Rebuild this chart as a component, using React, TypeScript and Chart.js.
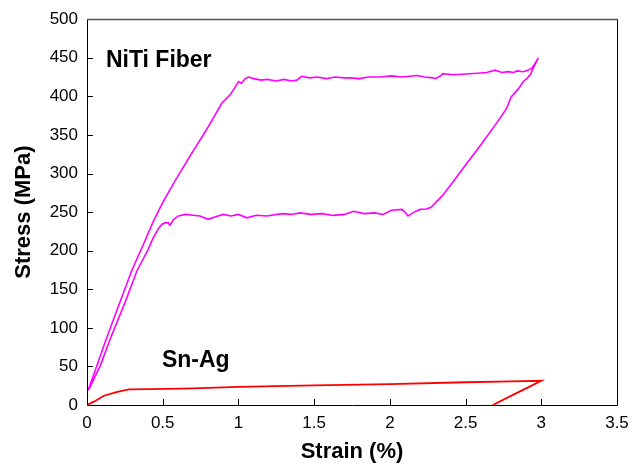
import React, { useEffect, useRef } from "react";
import { Chart, registerables } from "chart.js";

Chart.register(...registerables);

// NiTi fiber loading / unloading loop (strain %, stress MPa)
const nitiStrain = [
  0.007, 0.06, 0.124, 0.2, 0.295, 0.37, 0.438, 0.504, 0.592, 0.691, 0.79, 0.89, 0.945, 0.975, 1.0, 1.02, 1.045, 1.066,
  1.1, 1.15, 1.19, 1.25, 1.3, 1.35, 1.385, 1.418, 1.47, 1.52, 1.58, 1.64, 1.7, 1.737, 1.8, 1.86, 1.935, 2.01, 2.08,
  2.18, 2.23, 2.285, 2.3, 2.33, 2.35, 2.42, 2.5, 2.58, 2.64, 2.695, 2.74, 2.78, 2.816, 2.84, 2.88, 2.915, 2.94, 2.96,
  2.98,
  2.95, 2.93, 2.91, 2.88, 2.85, 2.8, 2.77, 2.7, 2.6, 2.5, 2.42, 2.35, 2.27, 2.24, 2.2, 2.16, 2.12, 2.1, 2.08, 2.01,
  1.957, 1.9, 1.83, 1.76, 1.7, 1.627, 1.55, 1.48, 1.407, 1.35, 1.29, 1.187, 1.12, 1.055, 1.0, 0.95, 0.9, 0.85, 0.8,
  0.746, 0.7, 0.65, 0.603, 0.57, 0.548, 0.537, 0.515, 0.493, 0.47, 0.438, 0.4, 0.33, 0.255, 0.15, 0.09, 0.012,
];
const nitiStress = [
  19, 48, 84, 124, 174, 207, 238, 264, 294, 326, 357, 391, 402, 411, 419, 417, 423, 425,
  423, 421, 422, 420, 422, 420, 421, 426, 424, 425, 423, 425, 424, 424, 423, 425, 425, 426.5, 425,
  427, 425, 424, 423, 426, 429.5, 428, 429, 430, 431, 434, 431, 432, 431, 433, 432, 434, 437, 443,
  450,
  438, 429, 424, 419, 410, 399, 384, 364, 337, 311, 290, 272, 256, 254, 253.5, 250, 245, 250, 253.5, 252.5,
  247, 249, 248, 251, 247, 245.7, 248, 247, 249, 247, 248, 245, 246, 242.6, 247, 245, 247, 244, 240.6,
  245, 246, 247, 245, 240, 233, 236, 236, 234, 228, 217, 200, 174, 135, 84, 52, 20,
];

// Sn-Ag loading / unloading
const snAgStrain = [0, 0.046, 0.112, 0.2, 0.277, 0.42, 0.7, 1.0, 1.5, 2.0, 2.5, 2.8, 3.0, 2.9, 2.816, 2.68];
const snAgStress = [0, 4.3, 12, 17, 20.2, 20.6, 21.5, 23.5, 25.5, 27, 29.5, 30.5, 31.3, 21.5, 13.5, 0];

const xTicks = [0, 0.5, 1, 1.5, 2, 2.5, 3, 3.5];
const yTicks = [0, 50, 100, 150, 200, 250, 300, 350, 400, 450, 500];

const annotationTexts = ["NiTi Fiber", "Sn-Ag"];
const annotationX = [0.125, 0.495];
const annotationY = [438, 49];

const FONT = "'Liberation Sans', Arial, Helvetica, sans-serif";

export default function App() {
  const ref = useRef<HTMLCanvasElement>(null);

  useEffect(() => {
    document.body.style.margin = "0";
    const canvas = ref.current;
    if (!canvas) return;

    const framePlugin = {
      id: "frame",
      afterDatasetsDraw(chart: any) {
        const { ctx, chartArea } = chart;
        const xs = chart.scales.x;
        const ys = chart.scales.y;
        const { left, right, top, bottom } = chartArea;
        ctx.save();
        // annotations
        ctx.fillStyle = "#000";
        ctx.font = `bold 23px ${FONT}`;
        ctx.textAlign = "left";
        ctx.textBaseline = "alphabetic";
        annotationTexts.forEach((t, i) => {
          ctx.fillText(t, xs.getPixelForValue(annotationX[i]), ys.getPixelForValue(annotationY[i]));
        });
        // inward ticks
        ctx.strokeStyle = "#000";
        ctx.lineWidth = 1;
        ctx.beginPath();
        xTicks.forEach((v) => {
          const px = Math.round(xs.getPixelForValue(v)) + 0.5;
          if (v <= xTicks[0] || v >= xTicks[xTicks.length - 1]) return;
          ctx.moveTo(px, bottom);
          ctx.lineTo(px, bottom - 6);
        });
        yTicks.forEach((v) => {
          const py = Math.round(ys.getPixelForValue(v)) + 0.5;
          if (v <= yTicks[0] || v >= yTicks[yTicks.length - 1]) return;
          ctx.moveTo(left, py);
          ctx.lineTo(left + 6, py);
        });
        ctx.stroke();
        // frame
        ctx.beginPath();
        ctx.strokeStyle = "#000";
        ctx.moveTo(Math.round(left) + 0.5, top);
        ctx.lineTo(Math.round(left) + 0.5, Math.round(bottom) + 0.5);
        ctx.lineTo(Math.round(right) + 0.5, Math.round(bottom) + 0.5);
        ctx.lineTo(Math.round(right) + 0.5, top);
        ctx.stroke();
        ctx.beginPath();
        ctx.strokeStyle = "#555";
        ctx.lineWidth = 1.5;
        ctx.moveTo(left, Math.round(top) + 0.5);
        ctx.lineTo(right + 1, Math.round(top) + 0.5);
        ctx.stroke();
        ctx.restore();
      },
    };

    const chart = new Chart(canvas, {
      type: "scatter",
      data: {
        datasets: [
          {
            data: nitiStrain.map((x, i) => ({ x, y: nitiStress[i] })),
            borderColor: "#ff00ff",
            backgroundColor: "#ff00ff",
            borderWidth: 1.6,
            showLine: true,
            pointRadius: 0,
            tension: 0,
            fill: false,
          },
          {
            data: snAgStrain.map((x, i) => ({ x, y: snAgStress[i] })),
            borderColor: "#ff0000",
            backgroundColor: "#ff0000",
            borderWidth: 1.8,
            showLine: true,
            pointRadius: 0,
            tension: 0,
            fill: false,
          },
        ],
      },
      options: {
        responsive: false,
        animation: false,
        layout: { padding: { top: 17, right: 26, left: 0, bottom: 0 } },
        plugins: {
          legend: { display: false },
          tooltip: { enabled: false },
        },
        scales: {
          x: {
            type: "linear",
            min: 0,
            max: 3.5,
            afterBuildTicks: (s: any) => {
              s.ticks = xTicks.map((v) => ({ value: v }));
            },
            afterFit: (s: any) => {
              s.height = 60;
            },
            ticks: {
              color: "#000",
              font: { family: FONT, size: 17 },
              padding: 8,
              maxRotation: 0,
              autoSkip: false,
              callback: (v: any) => String(v),
            },
            grid: { display: false, drawTicks: false },
            border: { display: false },
            title: {
              display: true,
              text: "Strain (%)",
              color: "#000",
              font: { family: FONT, size: 22, weight: "bold" },
              padding: { top: 0, bottom: 0 },
            },
          },
          y: {
            type: "linear",
            min: 0,
            max: 500,
            afterBuildTicks: (s: any) => {
              s.ticks = yTicks.map((v) => ({ value: v }));
            },
            afterFit: (s: any) => {
              s.width = 87;
            },
            ticks: {
              color: "#000",
              font: { family: FONT, size: 17 },
              padding: 9,
              autoSkip: false,
              callback: (v: any) => String(v),
            },
            grid: { display: false, drawTicks: false },
            border: { display: false },
            title: {
              display: true,
              text: "Stress (MPa)",
              color: "#000",
              font: { family: FONT, size: 22, weight: "bold" },
              padding: { top: 11, bottom: 0 },
            },
          },
        },
      },
      plugins: [framePlugin],
    } as any);

    return () => chart.destroy();
  }, []);

  return (
    <div style={{ width: 643, height: 465 }}>
      <canvas ref={ref} width={643} height={465} style={{ display: "block" }} />
    </div>
  );
}
